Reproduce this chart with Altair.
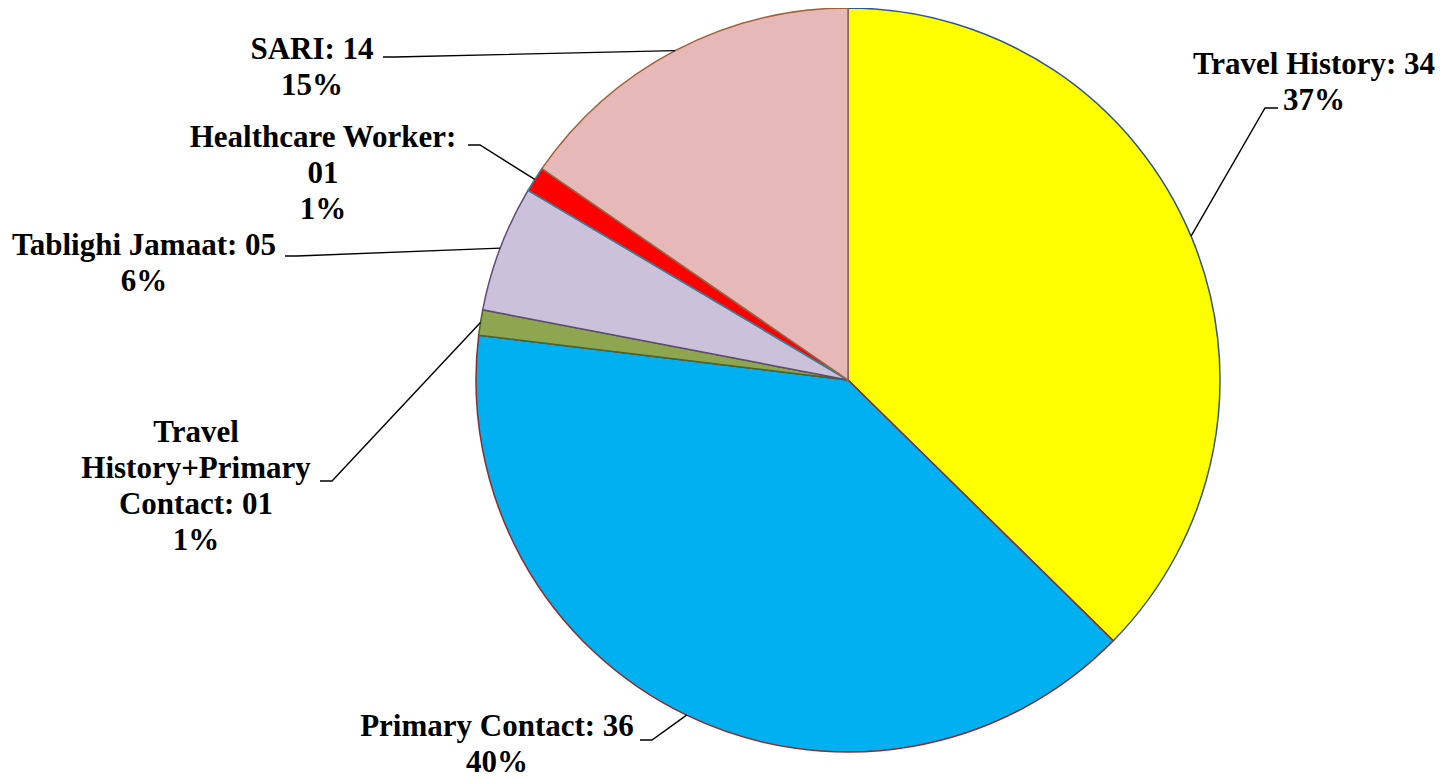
import math
import altair as alt
import pandas as pd

# ---- data ----
categories = ["Travel History", "Primary Contact", "Travel History+Primary Contact",
              "Tablighi Jamaat", "Healthcare Worker", "SARI"]
values = [34, 36, 1, 5, 1, 14]
value_labels = ["34", "36", "01", "05", "01", "14"]
percent_labels = ["37%", "40%", "1%", "6%", "1%", "15%"]

# ---- styles ----
fill_colors = ["#FFFF00", "#00B0F0", "#8EA64F", "#CCC1DA", "#FF0000", "#E6B8B7"]
edge_colors = ["#2F5597", "#8B2E2E", "#4F6228", "#5F497A", "#31859C", "#A0603A"]

# ---- layout (pixels inside the view) ----
CX, CY, R = 840, 372, 372
FONT = "Liberation Serif"
FS = 31
LH = 36
# how each "category: value" label wraps
wraps = [
    lambda c, v: [f"{c}: {v}"],
    lambda c, v: [f"{c}: {v}"],
    lambda c, v: ["Travel", "History+Primary", f"Contact: {v}"],
    lambda c, v: [f"{c}: {v}"],
    lambda c, v: [f"{c}:", v],
    lambda c, v: [f"{c}: {v}"],
]
label_pos = [(1306, 57), (489, 719), (188, 425), (136, 238), (315, 130), (304, 42)]
leader_stub = [((1270, 100), (1257, 100)), ((632, 732), (644, 732)),
               ((312, 473), (324, 473)), ((277, 248), (289, 248)),
               ((460, 137), (472, 137)), ((375, 49), (387, 49))]

pie_df = pd.DataFrame({
    "idx": list(range(len(categories))),
    "category": categories,
    "value": values,
    "fill": fill_colors,
    "edge": edge_colors,
})

total = sum(values)
text_rows, line_rows = [], []
cum = 0
for i, (cat, val) in enumerate(zip(categories, values)):
    mid = (cum + val / 2) / total * 2 * math.pi
    cum += val
    ex, ey = CX + R * math.sin(mid), CY - R * math.cos(mid)
    lines = wraps[i](cat, value_labels[i]) + [percent_labels[i]]
    lx, ly = label_pos[i]
    for k, t in enumerate(lines):
        text_rows.append({"x": lx, "y": ly + k * LH, "t": t})
    (ax, ay), (bx, by) = leader_stub[i]
    for s, (px, py) in enumerate([(ax, ay), (bx, by), (ex, ey)]):
        line_rows.append({"cat": cat, "s": s, "x": px, "y": py})

text_df = pd.DataFrame(text_rows)
line_df = pd.DataFrame(line_rows)

pie = alt.Chart(pie_df).mark_arc(outerRadius=R, strokeWidth=1.5).encode(
    theta=alt.Theta("value:Q", stack=True),
    order=alt.Order("idx:Q"),
    fill=alt.Fill("fill:N", scale=None),
    stroke=alt.Stroke("edge:N", scale=None),
    x=alt.value(CX),
    y=alt.value(CY),
)

leaders = alt.Chart(line_df).mark_line(color="black", strokeWidth=1.4).encode(
    x=alt.X("x:Q", scale=None, axis=None),
    y=alt.Y("y:Q", scale=None, axis=None),
    detail="cat:N",
    order="s:Q",
)

labels = alt.Chart(text_df).mark_text(
    font=FONT, fontSize=FS, fontWeight="bold", color="black",
    align="center", baseline="middle",
).encode(
    x=alt.X("x:Q", scale=None, axis=None),
    y=alt.Y("y:Q", scale=None, axis=None),
    text="t:N",
)

chart = alt.layer(pie, leaders, labels).properties(
    width=1427, height=770, padding=0, autosize="none"
).configure_view(stroke=None)

chart.save("out.html", embed_options={"renderer": "svg", "actions": False})
